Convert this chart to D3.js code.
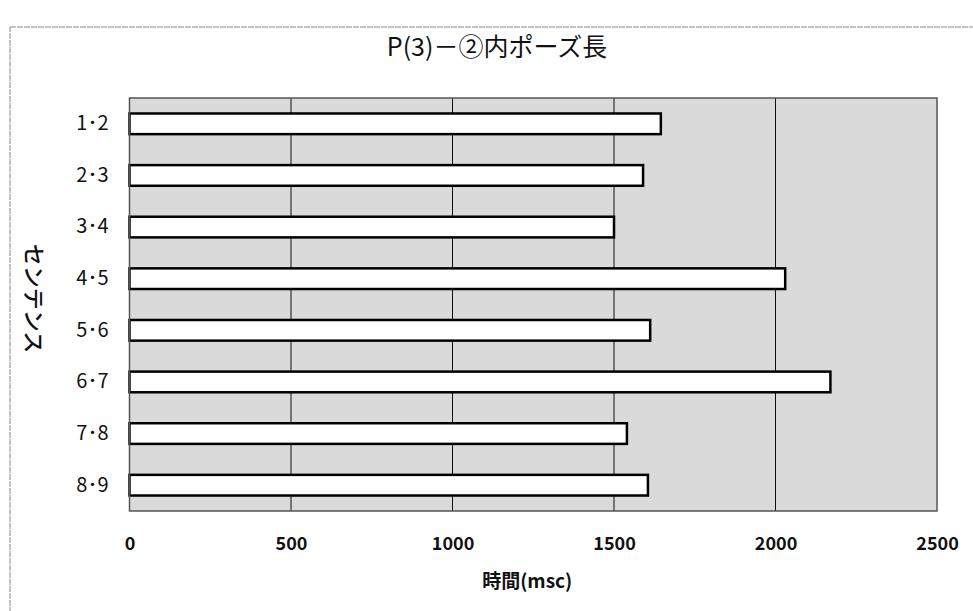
<!DOCTYPE html>
<html>
<head>
<meta charset="utf-8">
<script src="https://cdn.jsdelivr.net/npm/d3@7"></script>
<style>
  body { margin: 0; background: #fff; }
  svg text { font-family: "Noto Sans CJK JP", "Noto Sans", sans-serif; fill: #111; }
</style>
</head>
<body>
<svg id="chart" width="973" height="611"></svg>
<script>
// data
const categories = ["1･2", "2･3", "3･4", "4･5", "5･6", "6･7", "7･8", "8･9"];
const pauseMs = [1645, 1590, 1500, 2030, 1612, 2170, 1540, 1605];
const xTicks = [0, 500, 1000, 1500, 2000, 2500];
const titleText = "P(3)－②内ポーズ長";
const xTitle = "時間(msc)";
const yTitle = "センテンス";

const svg = d3.select("#chart"),
  margin = { top: 98, right: 36, bottom: 100, left: 129.5 },
  width = +svg.attr("width") - margin.left - margin.right,
  height = +svg.attr("height") - margin.top - margin.bottom;

// outer chart border (only top and left visible)
svg.append("rect")
  .attr("x", 10).attr("y", 27)
  .attr("width", 1000).attr("height", 700)
  .attr("fill", "none")
  .attr("stroke", "#8a8a8a")
  .attr("stroke-width", 1)
  .attr("stroke-dasharray", "6,1");

const x = d3.scaleLinear().domain([0, 2500]).range([0, width]);
const y = d3.scaleBand().domain(categories).range([0, height]).paddingInner(0.6).paddingOuter(0.3);

const g = svg.append("g").attr("transform", `translate(${margin.left},${margin.top})`);

// plot background
g.append("rect")
  .attr("width", width).attr("height", height)
  .attr("fill", "#dadada");

// gridlines
g.append("g")
  .selectAll("line")
  .data(xTicks.slice(1, -1))
  .join("line")
  .attr("x1", (d) => x(d)).attr("x2", (d) => x(d))
  .attr("y1", 0).attr("y2", height)
  .attr("stroke", "#111")
  .attr("stroke-width", 1);

// bars
g.append("g")
  .selectAll("rect")
  .data(pauseMs)
  .join("rect")
  .attr("x", x(0))
  .attr("y", (d, i) => y(categories[i]))
  .attr("width", (d) => x(d) - x(0))
  .attr("height", y.bandwidth())
  .attr("fill", "#fff")
  .attr("stroke", "#000")
  .attr("stroke-width", 2.5);

// plot border
g.append("rect")
  .attr("width", width).attr("height", height)
  .attr("fill", "none")
  .attr("stroke", "#555")
  .attr("stroke-width", 1.5);

// x axis labels
const xAxis = g.append("g")
  .attr("transform", `translate(0,${height})`)
  .call(d3.axisBottom(x).tickValues(xTicks).tickFormat(d3.format("d")).tickSize(0).tickPadding(26));
xAxis.select(".domain").remove();
xAxis.selectAll(".tick text")
  .style("font-size", "18px")
  .style("font-weight", "700")
  .attr("fill", "#111");

// y axis labels
const yAxis = g.append("g")
  .call(d3.axisLeft(y).tickSize(0).tickPadding(21));
yAxis.select(".domain").remove();
yAxis.selectAll(".tick text")
  .style("font-size", "20px")
  .attr("fill", "#111");

// titles
svg.append("text")
  .attr("x", 497).attr("y", 56)
  .attr("text-anchor", "middle")
  .style("font-size", "25px")
  .text(titleText);

svg.append("text")
  .attr("x", margin.left + x(1250) - 6).attr("y", 588)
  .attr("text-anchor", "middle")
  .style("font-size", "19px")
  .style("font-weight", "700")
  .text(xTitle);

svg.append("text")
  .attr("transform", `translate(26,${margin.top + height / 2 - 6}) rotate(90)`)
  .attr("text-anchor", "middle")
  .style("font-size", "22px")
  .style("font-weight", "500")
  .text(yTitle);
</script>
</body>
</html>
